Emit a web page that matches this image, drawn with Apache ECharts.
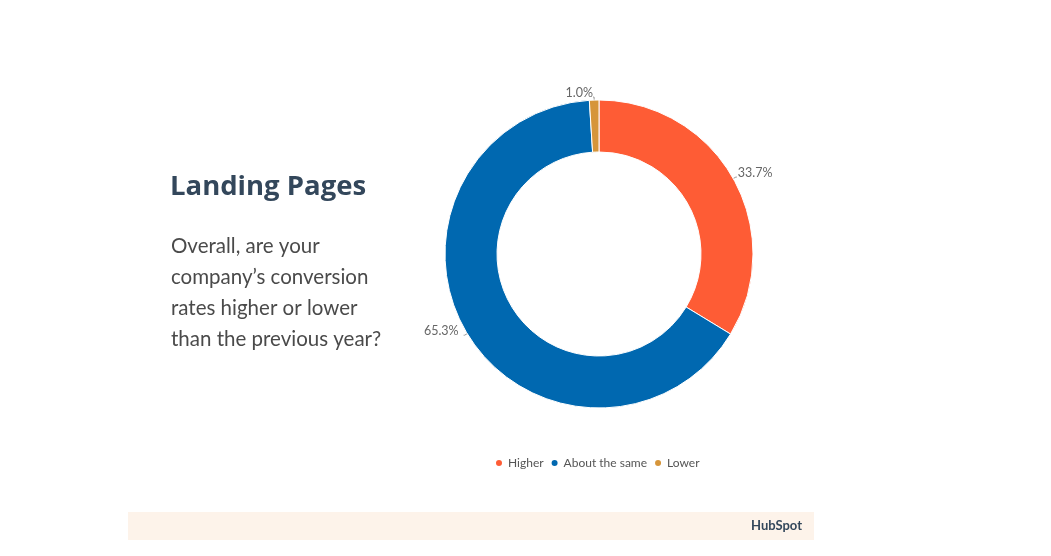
<!DOCTYPE html>
<html><head><meta charset="utf-8">
<script src="https://cdn.jsdelivr.net/npm/echarts@6/dist/echarts.min.js"></script>
<style>
html,body{margin:0;padding:0;background:#fff;}
#c{width:1051px;height:556px;}
</style></head>
<body><div id="c"></div>
<script>
const categories = ["Higher", "About the same", "Lower"];
const values = [33.7, 65.3, 1.0];
const colors = ["#fe5c35", "#0068b0", "#d6953a"];
const titleText = "Landing Pages";
const questionLines = ["Overall, are your", "company’s conversion", "rates higher or lower", "than the previous year?"];

const chart = echarts.init(document.getElementById('c'), null, {renderer: 'canvas'});
const font = 'Lato, "Open Sans", sans-serif';
const labelShift = [[-4, -4], [0, -4], [5, -4]];
chart.setOption({
  backgroundColor: '#ffffff',
  animation: false,
  graphic: [
    {type: 'rect', shape: {x: 128, y: 512, width: 686, height: 28}, style: {fill: '#fdf3ea'}, silent: true},
    {type: 'text', left: 751, top: 519, style: {text: 'HubSpot', font: 'bold 13px ' + font, fill: '#33475b'}},
    {type: 'text', left: 170, top: 173, style: {text: titleText, font: 'bold 27.5px "Open Sans", sans-serif', fill: '#33475b'}},
    {type: 'text', left: 171, top: 231, style: {text: questionLines.join('\n'), font: '20.5px ' + font, fill: '#4a4a4a', lineHeight: 31}}
  ],
  legend: {
    top: 452, left: 489,
    icon: 'circle', itemWidth: 8, itemHeight: 8, itemGap: 6,
    textStyle: {color: '#555', fontSize: 12, fontFamily: font},
    data: categories
  },
  series: [{
    type: 'pie',
    center: [599, 254],
    radius: [102, 154],
    startAngle: 90,
    clockwise: true,
    itemStyle: {borderColor: '#fff', borderWidth: 1},
    label: {
      show: true, position: 'outside',
      formatter: p => p.value.toFixed(1) + '%',
      color: '#666', fontSize: 12.5, fontFamily: font
    },
    labelLayout: p => ({dx: labelShift[p.dataIndex][0], dy: labelShift[p.dataIndex][1]}),
    labelLine: {show: true, length: 3, length2: 1, lineStyle: {color: '#999', width: 1}},
    data: categories.map((c, i) => ({name: c, value: values[i], itemStyle: {color: colors[i]}}))
  }]
});
</script></body></html>
